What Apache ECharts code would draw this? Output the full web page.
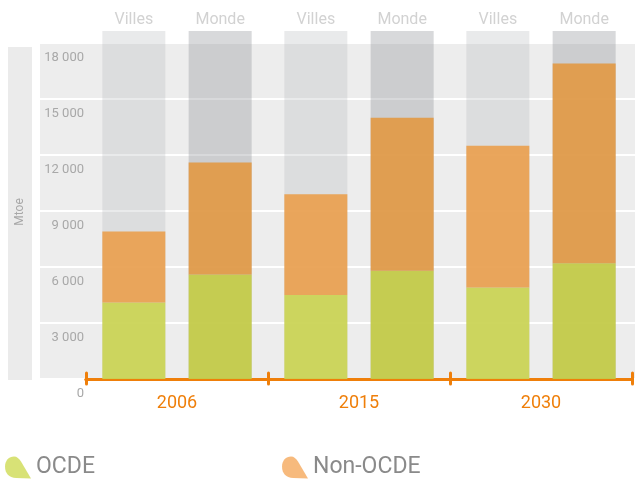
<!DOCTYPE html>
<html><head><meta charset="utf-8">
<script src="https://cdn.jsdelivr.net/npm/echarts@6/dist/echarts.min.js"></script>
<style>html,body{margin:0;padding:0;background:#fff}#c{width:635px;height:481px}</style>
</head><body><div id="c"></div>
<script>
const years = ['2006', '2015', '2030'];
const columnNames = ['Villes', 'Monde'];
const ocdeVilles = [4100, 4500, 4900];
const ocdeMonde = [5600, 5800, 6200];
const nonOcdeVilles = [3800, 5400, 7600];
const nonOcdeMonde = [6000, 8200, 10700];
const yTicks = [0, 3000, 6000, 9000, 12000, 15000, 18000];
const columnTop = 18640;

const FONT = 'Roboto';
const ORANGE = '#ef7f0a';
const leaf = 'path://M9,0 C4,0 0,4 0,10 C0,17 4,21 11,21.5 L26,22 L16,5 C14,2 12,0 9,0 Z';
const barW = 63, gap = '37%';

const chart = echarts.init(document.getElementById('c'), null, {renderer: 'canvas'});
const fmt = v => String(v).replace(/\B(?=(\d{3})+(?!\d))/g, ' ');

chart.setOption({
  animation: false,
  textStyle: {fontFamily: FONT},
  graphic: [
    {type: 'rect', left: 8, top: 47, shape: {width: 24, height: 333}, style: {fill: '#ebebeb'}, z: 0},
    {type: 'text', x: 20, y: 212, rotation: Math.PI / 2,
     style: {text: 'Mtoe', fill: '#a8a8a8', font: '12px Roboto', align: 'center', verticalAlign: 'middle'}, z: 1}
  ],
  grid: [
    {left: 40, right: 0, top: 43, bottom: 102},
    {left: 86, right: 3, top: 31, bottom: 102}
  ],
  xAxis: [
    {gridIndex: 0, type: 'category', data: years, show: false},
    {gridIndex: 1, type: 'category', data: years, position: 'bottom',
     axisLine: {lineStyle: {color: ORANGE, width: 3}},
     axisTick: {show: true, inside: false, length: 5, lineStyle: {color: ORANGE, width: 3, cap: 'round'}},
     axisLabel: {color: ORANGE, fontSize: 18, margin: 15, fontFamily: FONT}},
    {gridIndex: 1, type: 'category', data: years, position: 'bottom',
     axisLine: {lineStyle: {color: ORANGE, width: 3}},
     axisTick: {show: true, inside: true, length: 6, lineStyle: {color: ORANGE, width: 3, cap: 'round'}},
     axisLabel: {show: false}}
  ],
  yAxis: [
    {gridIndex: 0, type: 'value', min: 0, max: 18000, interval: 3000,
     axisLine: {show: false}, axisTick: {show: false}, axisLabel: {show: false},
     splitArea: {show: true, areaStyle: {color: ['#ededed', '#ededed']}},
     splitLine: {show: true, lineStyle: {color: '#ffffff', width: 2}}},
    {gridIndex: 1, type: 'value', min: 0, max: columnTop, interval: 3000,
     axisLine: {show: false}, axisTick: {show: false}, splitLine: {show: false},
     axisLabel: {showMaxLabel: false, color: '#a8a8a8', fontSize: 13, margin: 2,
       verticalAlign: 'top', padding: [8, 0, 0, 0], fontFamily: FONT,
       formatter: v => yTicks.includes(v) ? fmt(v) : ''}}
  ],
  legend: [
    {left: 5, top: 456, padding: 0, itemWidth: 26, itemHeight: 22, icon: leaf, selectedMode: false,
     textStyle: {color: '#8a8a8a', fontSize: 23, fontFamily: FONT},
     data: [{name: 'OCDE', itemStyle: {color: '#d5e06a'}}]},
    {left: 282, top: 456, padding: 0, itemWidth: 26, itemHeight: 22, icon: leaf, selectedMode: false,
     textStyle: {color: '#8a8a8a', fontSize: 23, fontFamily: FONT},
     data: [{name: 'Non-OCDE', itemStyle: {color: '#f6b472'}}]}
  ],
  series: [
    {name: columnNames[0], type: 'bar', xAxisIndex: 2, yAxisIndex: 1, barWidth: barW, barGap: gap,
     data: years.map(() => columnTop), itemStyle: {color: 'rgba(176,178,184,0.28)'},
     label: {show: true, position: 'top', distance: 3, formatter: columnNames[0], color: '#d2d2d2', fontSize: 16, fontFamily: FONT},
     silent: true},
    {name: columnNames[1], type: 'bar', xAxisIndex: 2, yAxisIndex: 1, barWidth: barW, barGap: gap,
     data: years.map(() => columnTop), itemStyle: {color: 'rgba(150,152,156,0.37)'},
     label: {show: true, position: 'top', distance: 3, formatter: columnNames[1], color: '#d2d2d2', fontSize: 16, fontFamily: FONT},
     silent: true},
    {name: 'OCDE', type: 'bar', stack: 'V', xAxisIndex: 1, yAxisIndex: 1, barWidth: barW, barGap: gap,
     data: ocdeVilles, itemStyle: {color: '#cad453', opacity: 0.92}},
    {name: 'OCDE', type: 'bar', stack: 'M', xAxisIndex: 1, yAxisIndex: 1, barWidth: barW, barGap: gap,
     data: ocdeMonde, itemStyle: {color: '#c4cc47', opacity: 0.92}},
    {name: 'Non-OCDE', type: 'bar', stack: 'V', xAxisIndex: 1, yAxisIndex: 1, barWidth: barW, barGap: gap,
     data: nonOcdeVilles, itemStyle: {color: '#e99f4f', opacity: 0.92}},
    {name: 'Non-OCDE', type: 'bar', stack: 'M', xAxisIndex: 1, yAxisIndex: 1, barWidth: barW, barGap: gap,
     data: nonOcdeMonde, itemStyle: {color: '#e29a47', opacity: 0.92}}
  ]
});
</script></body></html>
